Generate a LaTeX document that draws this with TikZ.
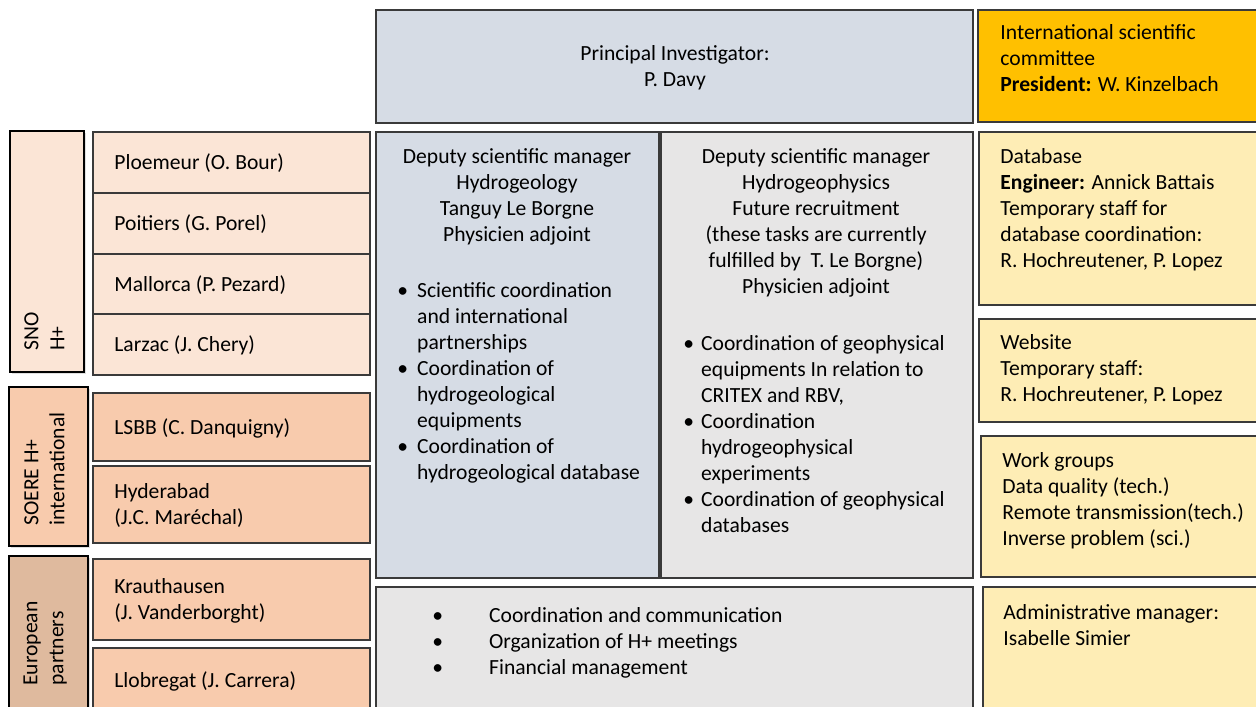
\documentclass[tikz,border=0pt]{standalone}
\usepackage{fontspec}
\setmainfont{Carlito}
\usepackage{tikz}
\usetikzlibrary{shadows}

\definecolor{piblue}{HTML}{D6DCE5}
\definecolor{panelgrey}{HTML}{E7E6E6}
\definecolor{gold}{HTML}{FFC000}
\definecolor{paleyellow}{HTML}{FEEDB5}
\definecolor{sitelight}{HTML}{FBE5D6}
\definecolor{sitemid}{HTML}{F8CBAD}
\definecolor{eurotag}{HTML}{DFBA9E}
\definecolor{boxline}{HTML}{3A3A3A}

\begin{document}
\begin{tikzpicture}[x=0.5pt, y=-0.5pt,
  box/.style={draw=boxline, line width=0.7pt},
  tag/.style={draw=black, line width=1.3pt, drop shadow={shadow xshift=1.2pt, shadow yshift=-1.2pt, opacity=0.25}},
  txt/.style={inner sep=0pt, font=\fontsize{10.8}{13}\selectfont, align=left}]

\clip (0,0) rectangle (1256,706);
\fill[white] (0,0) rectangle (1256,706);

% Top row
\draw[box, fill=piblue] (376,10) rectangle (973,123);
\node[txt, align=center] (pi) at (675,68) {Principal Investigator:\\P. Davy};
\draw[box, fill=gold] (978,10) rectangle (1262,122);
\node[txt, anchor=north west] (isc) at (1000,24) {International scientific\\committee\\\textbf{President:} W. Kinzelbach};

% Sites of SNO H+
\draw[tag, fill=sitelight] (10,131) rectangle (84,372);
\node[txt, rotate=90, anchor=north west] (sno) at (24,351) {SNO\\H+};
\foreach \name/\top/\bot [count=\i] in {Ploemeur (O. Bour)/132/193, Poitiers (G. Porel)/193/254, Mallorca (P. Pezard)/254/314, Larzac (J. Chery)/314/375}{
  \draw[box, fill=sitelight] (93,\top) rectangle (370,\bot);
  \node[txt, anchor=west] (site\i) at (114,{(\top+\bot)/2+1}) {\name};
}

% SOERE H+ international
\draw[tag, fill=sitemid] (9,387) rectangle (88,546);
\node[txt, rotate=90, anchor=north west] (soere) at (24,526) {SOERE H+\\international};
\draw[box, fill=sitemid] (93,393) rectangle (370,461);
\node[txt, anchor=west] (lsbb) at (114,428) {LSBB (C. Danquigny)};
\draw[box, fill=sitemid] (93,466) rectangle (370,543);
\node[txt, anchor=west] (hyd) at (114,505) {Hyderabad\\(J.C. Maréchal)};

% European partners
\draw[tag, fill=eurotag] (9,556) rectangle (88,720);
\node[txt, rotate=90, anchor=north west] (euro) at (23,686) {European\\partners};
\draw[box, fill=sitemid] (93,559) rectangle (370,640);
\node[txt, anchor=west] (kra) at (114,601) {Krauthausen\\(J. Vanderborght)};
\draw[box, fill=sitemid] (93,648) rectangle (370,720);
\node[txt, anchor=west] (llo) at (114,681) {Llobregat (J. Carrera)};

% Deputy managers
\draw[box, fill=piblue] (376,132) rectangle (659,578);
\node[txt, align=center, anchor=north] (hydro) at (517,148) {Deputy scientific manager\\Hydrogeology\\Tanguy Le Borgne\\Physicien adjoint};
\node[txt, anchor=north west] (hydrotasks) at (397,279) {%
  \begin{tabular}{@{}l@{\hspace{4.5pt}}l@{}}
  \textbullet & Scientific coordination\\
              & and international\\
              & partnerships\\
  \textbullet & Coordination of\\
              & hydrogeological\\
              & equipments\\
  \textbullet & Coordination of\\
              & hydrogeological database
  \end{tabular}};

\draw[box, fill=panelgrey] (661,132) rectangle (973,578);
\node[txt, align=center, anchor=north] (geoph) at (816,148) {Deputy scientific manager\\Hydrogeophysics\\Future recruitment\\(these tasks are currently\\fulfilled by\ \ T. Le Borgne)\\Physicien adjoint};
\node[txt, anchor=north west] (geophtasks) at (683,332) {%
  \begin{tabular}{@{}l@{\hspace{3.5pt}}l@{}}
  \textbullet & Coordination of geophysical\\
              & equipments In relation to\\
              & CRITEX and RBV,\\
  \textbullet & Coordination\\
              & hydrogeophysical\\
              & experiments\\
  \textbullet & Coordination of geophysical\\
              & databases
  \end{tabular}};

% Coordination
\draw[box, fill=panelgrey] (376,587) rectangle (973,720);
\node[txt, anchor=north west] (coord) at (432,604) {%
  \begin{tabular}{@{}l@{\hspace{23pt}}l@{}}
  \textbullet & Coordination and communication\\
  \textbullet & Organization of H+ meetings\\
  \textbullet & Financial management
  \end{tabular}};

% Right column
\draw[box, fill=paleyellow] (979,132) rectangle (1262,305);
\node[txt, anchor=north west] (db) at (1000,148) {Database\\\textbf{Engineer:} Annick Battais\\Temporary staff for\\database coordination:\\R. Hochreutener, P. Lopez};
\draw[box, fill=paleyellow] (979,319) rectangle (1262,422);
\node[txt, anchor=north west] (web) at (1000,334) {Website\\Temporary staff:\\R. Hochreutener, P. Lopez};
\draw[box, fill=paleyellow] (981,436) rectangle (1262,577);
\node[txt, anchor=north west] (work) at (1002,452) {Work groups\\Data quality (tech.)\\Remote transmission(tech.)\\Inverse problem (sci.)};
\draw[box, fill=paleyellow] (983,587) rectangle (1262,720);
\node[txt, anchor=north west] (admin) at (1003,604) {Administrative manager:\\Isabelle Simier};

\end{tikzpicture}
\end{document}
